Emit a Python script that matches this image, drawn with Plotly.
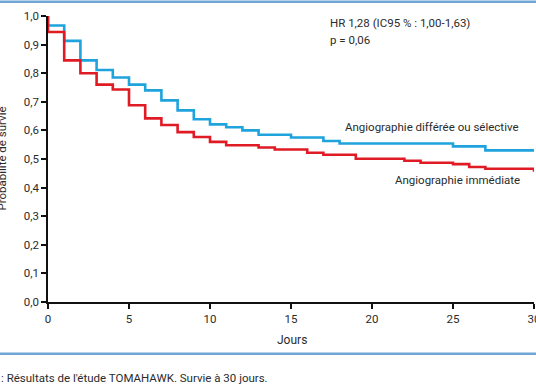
import plotly.graph_objects as go

# Kaplan-Meier step data (time in days, survival probability)
t_blue = [0, 0, 1, 2, 3, 4, 5, 6, 7, 8, 9, 10, 11, 12, 13, 15, 17, 18, 25, 27, 30]
s_blue = [1.0, 0.967, 0.913, 0.845, 0.811, 0.785, 0.760, 0.740, 0.705, 0.670, 0.639,
          0.621, 0.611, 0.600, 0.585, 0.575, 0.563, 0.554, 0.544, 0.530, 0.530]

t_red = [0, 0, 1, 2, 3, 4, 5, 6, 7, 8, 9, 10, 11, 13, 14, 16, 17, 19, 22, 23, 25, 26, 27, 30]
s_red = [1.0, 0.944, 0.845, 0.800, 0.760, 0.743, 0.688, 0.642, 0.619, 0.594, 0.577,
         0.560, 0.548, 0.540, 0.533, 0.522, 0.515, 0.501, 0.494, 0.487, 0.482, 0.472,
         0.466, 0.455]

x_ticks = [0, 5, 10, 15, 20, 25, 30]
y_ticks = [0.0, 0.1, 0.2, 0.3, 0.4, 0.5, 0.6, 0.7, 0.8, 0.9, 1.0]
y_tick_labels = ["0,0", "0,1", "0,2", "0,3", "0,4", "0,5", "0,6", "0,7", "0,8", "0,9", "1,0"]

# page decoration: vertical pixel positions of the two horizontal blue rules
rule_rows = [1.75, 353.75]

BLUE = "#1fa3dd"
RED = "#e01b24"
RULE = "#6fa6d8"
TXT = "#2b2b2b"
FONT = "Roboto"

W, H = 536, 386
# plot area in pixels (left, right, top, bottom)
PL, PR, PT, PB = 48, 534, 16, 302

def px(xp):
    return xp / W

def py(yp):
    return (H - yp) / H

fig = go.Figure()
fig.add_trace(go.Scatter(x=t_blue, y=s_blue, mode="lines", line=dict(shape="hv", color=BLUE, width=2.6),
                         name="Angiographie différée ou sélective", hoverinfo="skip", cliponaxis=False))
fig.add_trace(go.Scatter(x=t_red, y=s_red, mode="lines", line=dict(shape="hv", color=RED, width=2.6),
                         name="Angiographie immédiate", hoverinfo="skip", cliponaxis=False))
# blue rules on a full-page helper subplot
for r in rule_rows:
    fig.add_trace(go.Scatter(x=[0, W], y=[r, r], mode="lines", line=dict(color=RULE, width=2.5),
                             xaxis="x2", yaxis="y2", hoverinfo="skip", cliponaxis=False, showlegend=False))

axis_common = dict(showgrid=False, zeroline=False, showline=True, linecolor="#111", linewidth=1.5,
                   ticks="outside", ticklen=5, tickwidth=1.5, tickcolor="#111",
                   tickfont=dict(size=11.5, color=TXT), automargin=False,
                   ticklabeloverflow="allow")
hidden = dict(visible=False, showgrid=False, zeroline=False, fixedrange=True, automargin=False)

fig.update_layout(
    width=W, height=H,
    margin=dict(l=0, r=0, t=0, b=0, autoexpand=False),
    paper_bgcolor="white", plot_bgcolor="rgba(0,0,0,0)",
    showlegend=False,
    font=dict(family=FONT, size=11, color=TXT),
    xaxis=dict(range=[0, 30], domain=[px(PL), px(PR)], tickvals=x_ticks,
               ticktext=[str(v) for v in x_ticks], **axis_common),
    yaxis=dict(range=[0, 1.0], domain=[py(PB), py(PT)], tickvals=y_ticks,
               ticktext=y_tick_labels, **axis_common),
    xaxis2=dict(range=[0, W], domain=[0, 1], anchor="y2", **hidden),
    yaxis2=dict(range=[H, 0], domain=[0, 1], anchor="x2", **hidden),
)

ann = [
    dict(text="HR 1,28 (IC95 % : 1,00-1,63)", x=px(328), y=py(23), xanchor="left", yanchor="middle"),
    dict(text="p = 0,06", x=px(328), y=py(40), xanchor="left", yanchor="middle"),
    dict(text="Angiographie différée ou sélective", x=px(343), y=py(127), xanchor="left", yanchor="middle"),
    dict(text="Angiographie immédiate", x=px(393), y=py(180), xanchor="left", yanchor="middle"),
    dict(text="Jours", x=px(292), y=py(340), xanchor="center", yanchor="middle", font=dict(size=12, color=TXT)),
    dict(text="Probabilité de survie", x=px(1.5), y=py(159), xanchor="center", yanchor="middle", textangle=-90),
    dict(text=": Résultats de l'étude TOMAHAWK. Survie à 30 jours.", x=px(-1), y=py(378),
         xanchor="left", yanchor="middle", font=dict(size=11.5, color=TXT)),
]
for a in ann:
    a.setdefault("font", dict(size=11.5, color=TXT))
    fig.add_annotation(xref="paper", yref="paper", showarrow=False, **a)

fig.write_html("out.html", config={"displayModeBar": False},
               post_script="document.body.style.margin='0';document.body.style.padding='0';document.body.style.overflow='hidden';")
